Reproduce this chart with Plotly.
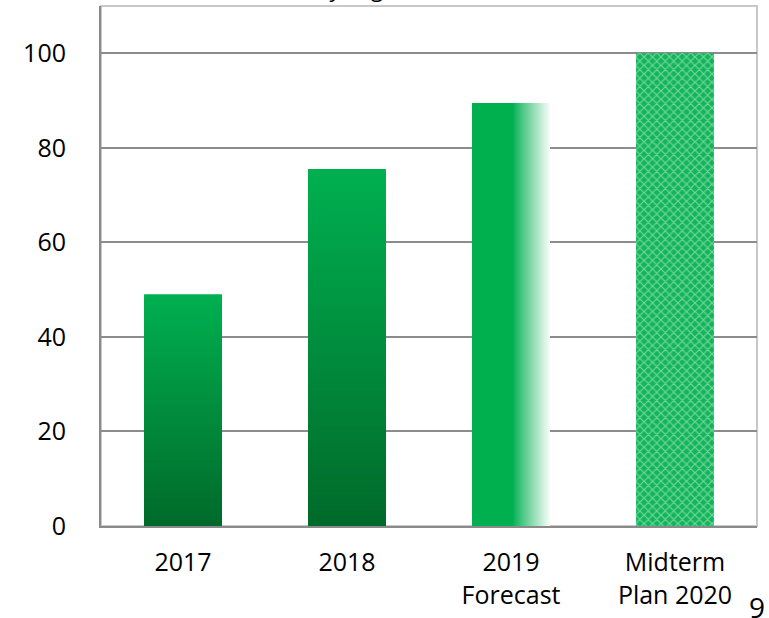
import plotly.graph_objects as go

# Chart data
categories = ["2017", "2018", "2019<br>Forecast", "Midterm<br>Plan 2020"]
values = [49, 75.5, 89.5, 100]
y_ticks = [0, 20, 40, 60, 80, 100]

GREEN = (0, 176, 80)
DARK = (0, 106, 42)
WHITE = (255, 255, 255)
BAR_W = 0.475
FONT = "'Open Sans', 'Noto Sans', sans-serif"


def mix(c1, c2, t):
    return "rgb({},{},{})".format(*[round(a + (b - a) * t) for a, b in zip(c1, c2)])


fig = go.Figure()

# 2017 and 2018: vertical gradient, bright on top, dark at the bottom.
# Each layer runs from zero up to a fraction of the value; shorter (darker)
# layers are drawn over taller ones, so there are no seams.
N = 90
for cat, val in zip(categories[:2], values[:2]):
    for i in range(N):
        frac = (N - i) / N
        t = 1 - (frac - 0.5 / N)  # 0 at the top, 1 at the bottom
        fig.add_trace(go.Bar(
            x=[cat], y=[val * frac], base=[0], width=BAR_W,
            marker=dict(color=mix(GREEN, DARK, t), line=dict(width=0)),
            showlegend=False, hoverinfo="skip",
        ))

# 2019 forecast: solid green fading to white towards the right edge.
# Widest (palest) layer first, narrower greener layers on top.
M = 70
for j in range(M):
    k = M - j  # number of slices covered by this layer
    f = (k - 0.5) / M
    fade = 0 if f < 0.52 else min(1.0, (f - 0.52) / 0.48)
    fig.add_trace(go.Bar(
        x=[categories[2]], y=[values[2]], base=[0],
        width=BAR_W * k / M, offset=-BAR_W / 2,
        marker=dict(color=mix(GREEN, WHITE, fade ** 0.9 * 0.97), line=dict(width=0)),
        showlegend=False, hoverinfo="skip",
    ))

# Midterm plan: patterned fill
fig.add_trace(go.Bar(
    x=[categories[3]], y=[values[3]], base=[0], width=BAR_W,
    marker=dict(
        color="#2dbf6c",
        line=dict(width=0),
        pattern=dict(shape="x", bgcolor="#12b55a", fgcolor="#d9f5e4",
                     size=6, solidity=0.35, fillmode="overlay"),
    ),
    showlegend=False, hoverinfo="skip",
))

fig.update_layout(
    width=769, height=618,
    margin=dict(l=101, r=12, t=6, b=92),
    paper_bgcolor="white", plot_bgcolor="white",
    barmode="overlay",
    font=dict(family=FONT, size=25, color="black"),
    xaxis=dict(
        type="category", categoryorder="array", categoryarray=categories,
        showline=True, linecolor="#8a8a8a", linewidth=2,
        showgrid=False, ticks="", ticklabelstandoff=13,
        tickfont=dict(size=25),
    ),
    yaxis=dict(
        range=[0, 110], tickvals=y_ticks,
        showline=True, linecolor="#8a8a8a", linewidth=2,
        showgrid=True, gridcolor="#8c8c8c", gridwidth=1.5,
        zeroline=False, ticks="", ticklabelstandoff=28,
        tickfont=dict(size=25),
    ),
    shapes=[dict(
        type="rect", xref="paper", yref="paper", x0=0, x1=1, y0=0, y1=1,
        line=dict(color="#c8c8c8", width=2), layer="below",
    )],
    annotations=[
        dict(text="Monthly Avg. Sales (2020 Plan = 100)", xref="paper", yref="paper",
             x=0.52, y=1.0 + 0.5 / 520, xanchor="center", yanchor="bottom",
             showarrow=False, font=dict(size=22, color="black")),
        dict(text="9", xref="paper", yref="paper", x=1.0, y=-(607 - 526) / 520,
             xanchor="center", yanchor="middle", showarrow=False,
             font=dict(size=28, color="black")),
    ],
)

fig.write_html("out.html")
